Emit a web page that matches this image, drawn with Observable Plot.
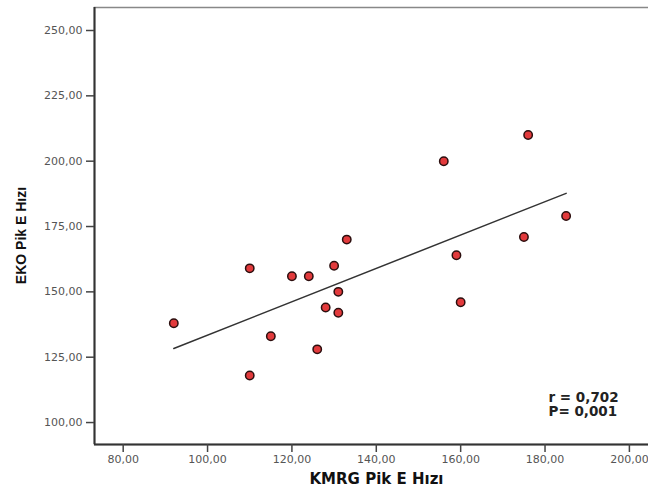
<!DOCTYPE html>
<html>
<head>
<meta charset="utf-8">
<script src="https://cdn.jsdelivr.net/npm/d3@7"></script>
<script src="https://cdn.jsdelivr.net/npm/@observablehq/plot@0.6"></script>
<style>
  html, body { margin: 0; padding: 0; background: #fff; overflow: hidden; width: 648px; height: 491px; }
  #chart { width: 648px; height: 491px; overflow: hidden; }
  #chart svg { display: block; max-width: none !important; }
</style>
</head>
<body>
<div id="chart"></div>
<script>
// KMRG Pik E Hızı (x) and EKO Pik E Hızı (y)
const kmrg = [92, 110, 110, 115, 120, 124, 126, 128, 130, 131, 131, 133, 176, 156, 185, 175, 159, 160];
const eko  = [138, 159, 118, 133, 156, 156, 128, 144, 160, 150, 142, 170, 210, 200, 179, 171, 164, 146];

const xTicks = [80, 100, 120, 140, 160, 180, 200];
const yTicks = [100, 125, 150, 175, 200, 225, 250];
const xDomain = [73.2, 206.9];
const yDomain = [91.6, 258.8];

const xLabel = "KMRG Pik E Hızı";
const yLabel = "EKO Pik E Hızı";
const stats = ["r = 0,702", "P= 0,001"];

const data = kmrg.map((x, i) => ({x, y: eko[i]}));
const fmt = d => d.toFixed(2).replace(".", ",");

const plot = Plot.plot({
  width: 660,
  height: 491,
  marginLeft: 94,
  marginRight: 2,
  marginTop: 7,
  marginBottom: 47,
  style: {background: "#fff", fontFamily: "'DejaVu Sans', sans-serif", fontSize: "11px", color: "#555", maxWidth: "none"},
  x: {domain: xDomain},
  y: {domain: yDomain},
  marks: [
    Plot.frame({stroke: "#888", strokeWidth: 1.5}),
    Plot.ruleX([xDomain[0]], {stroke: "#333", strokeWidth: 2}),
    Plot.ruleY([yDomain[0]], {stroke: "#333", strokeWidth: 2}),
    Plot.axisX({ticks: xTicks, tickFormat: fmt, tickSize: 8, tickPadding: 3, stroke: "#444", strokeWidth: 1.5, fill: "#555", label: null}),
    Plot.axisY({ticks: yTicks, tickFormat: fmt, tickSize: 8, tickPadding: 4, stroke: "#444", strokeWidth: 1.5, fill: "#555", label: null}),
    Plot.linearRegressionY(data, {x: "x", y: "y", ci: 0, stroke: "#333", strokeWidth: 1.5}),
    Plot.dot(data, {x: "x", y: "y", r: 4.2, fill: "#e23a3c", stroke: "#2b0e0e", strokeWidth: 1.5}),
    Plot.text([xLabel], {text: d => d, frameAnchor: "bottom", dy: 35, lineAnchor: "middle", fontFamily: "'DejaVu Sans', sans-serif", fontWeight: "bold", fontSize: 15, fill: "#111"}),
    Plot.text([yLabel], {text: d => d, frameAnchor: "left", textAnchor: "middle", dx: -73, dy: 9.5, rotate: -90, lineAnchor: "middle", fontFamily: "'Liberation Sans', Arial, sans-serif", fontWeight: "bold", fontSize: 14, fill: "#111"}),
    Plot.text([stats[0]], {text: d => d, frameAnchor: "bottom-right", textAnchor: "start", dx: -110, dy: -47, lineAnchor: "middle", fontFamily: "'DejaVu Sans', sans-serif", fontWeight: "bold", fontSize: 13.5, fill: "#222"}),
    Plot.text([stats[1]], {text: d => d, frameAnchor: "bottom-right", textAnchor: "start", dx: -110, dy: -32.5, lineAnchor: "middle", fontFamily: "'DejaVu Sans', sans-serif", fontWeight: "bold", fontSize: 13.5, fill: "#222"})
  ]
});
document.getElementById("chart").appendChild(plot);
</script>
</body>
</html>
